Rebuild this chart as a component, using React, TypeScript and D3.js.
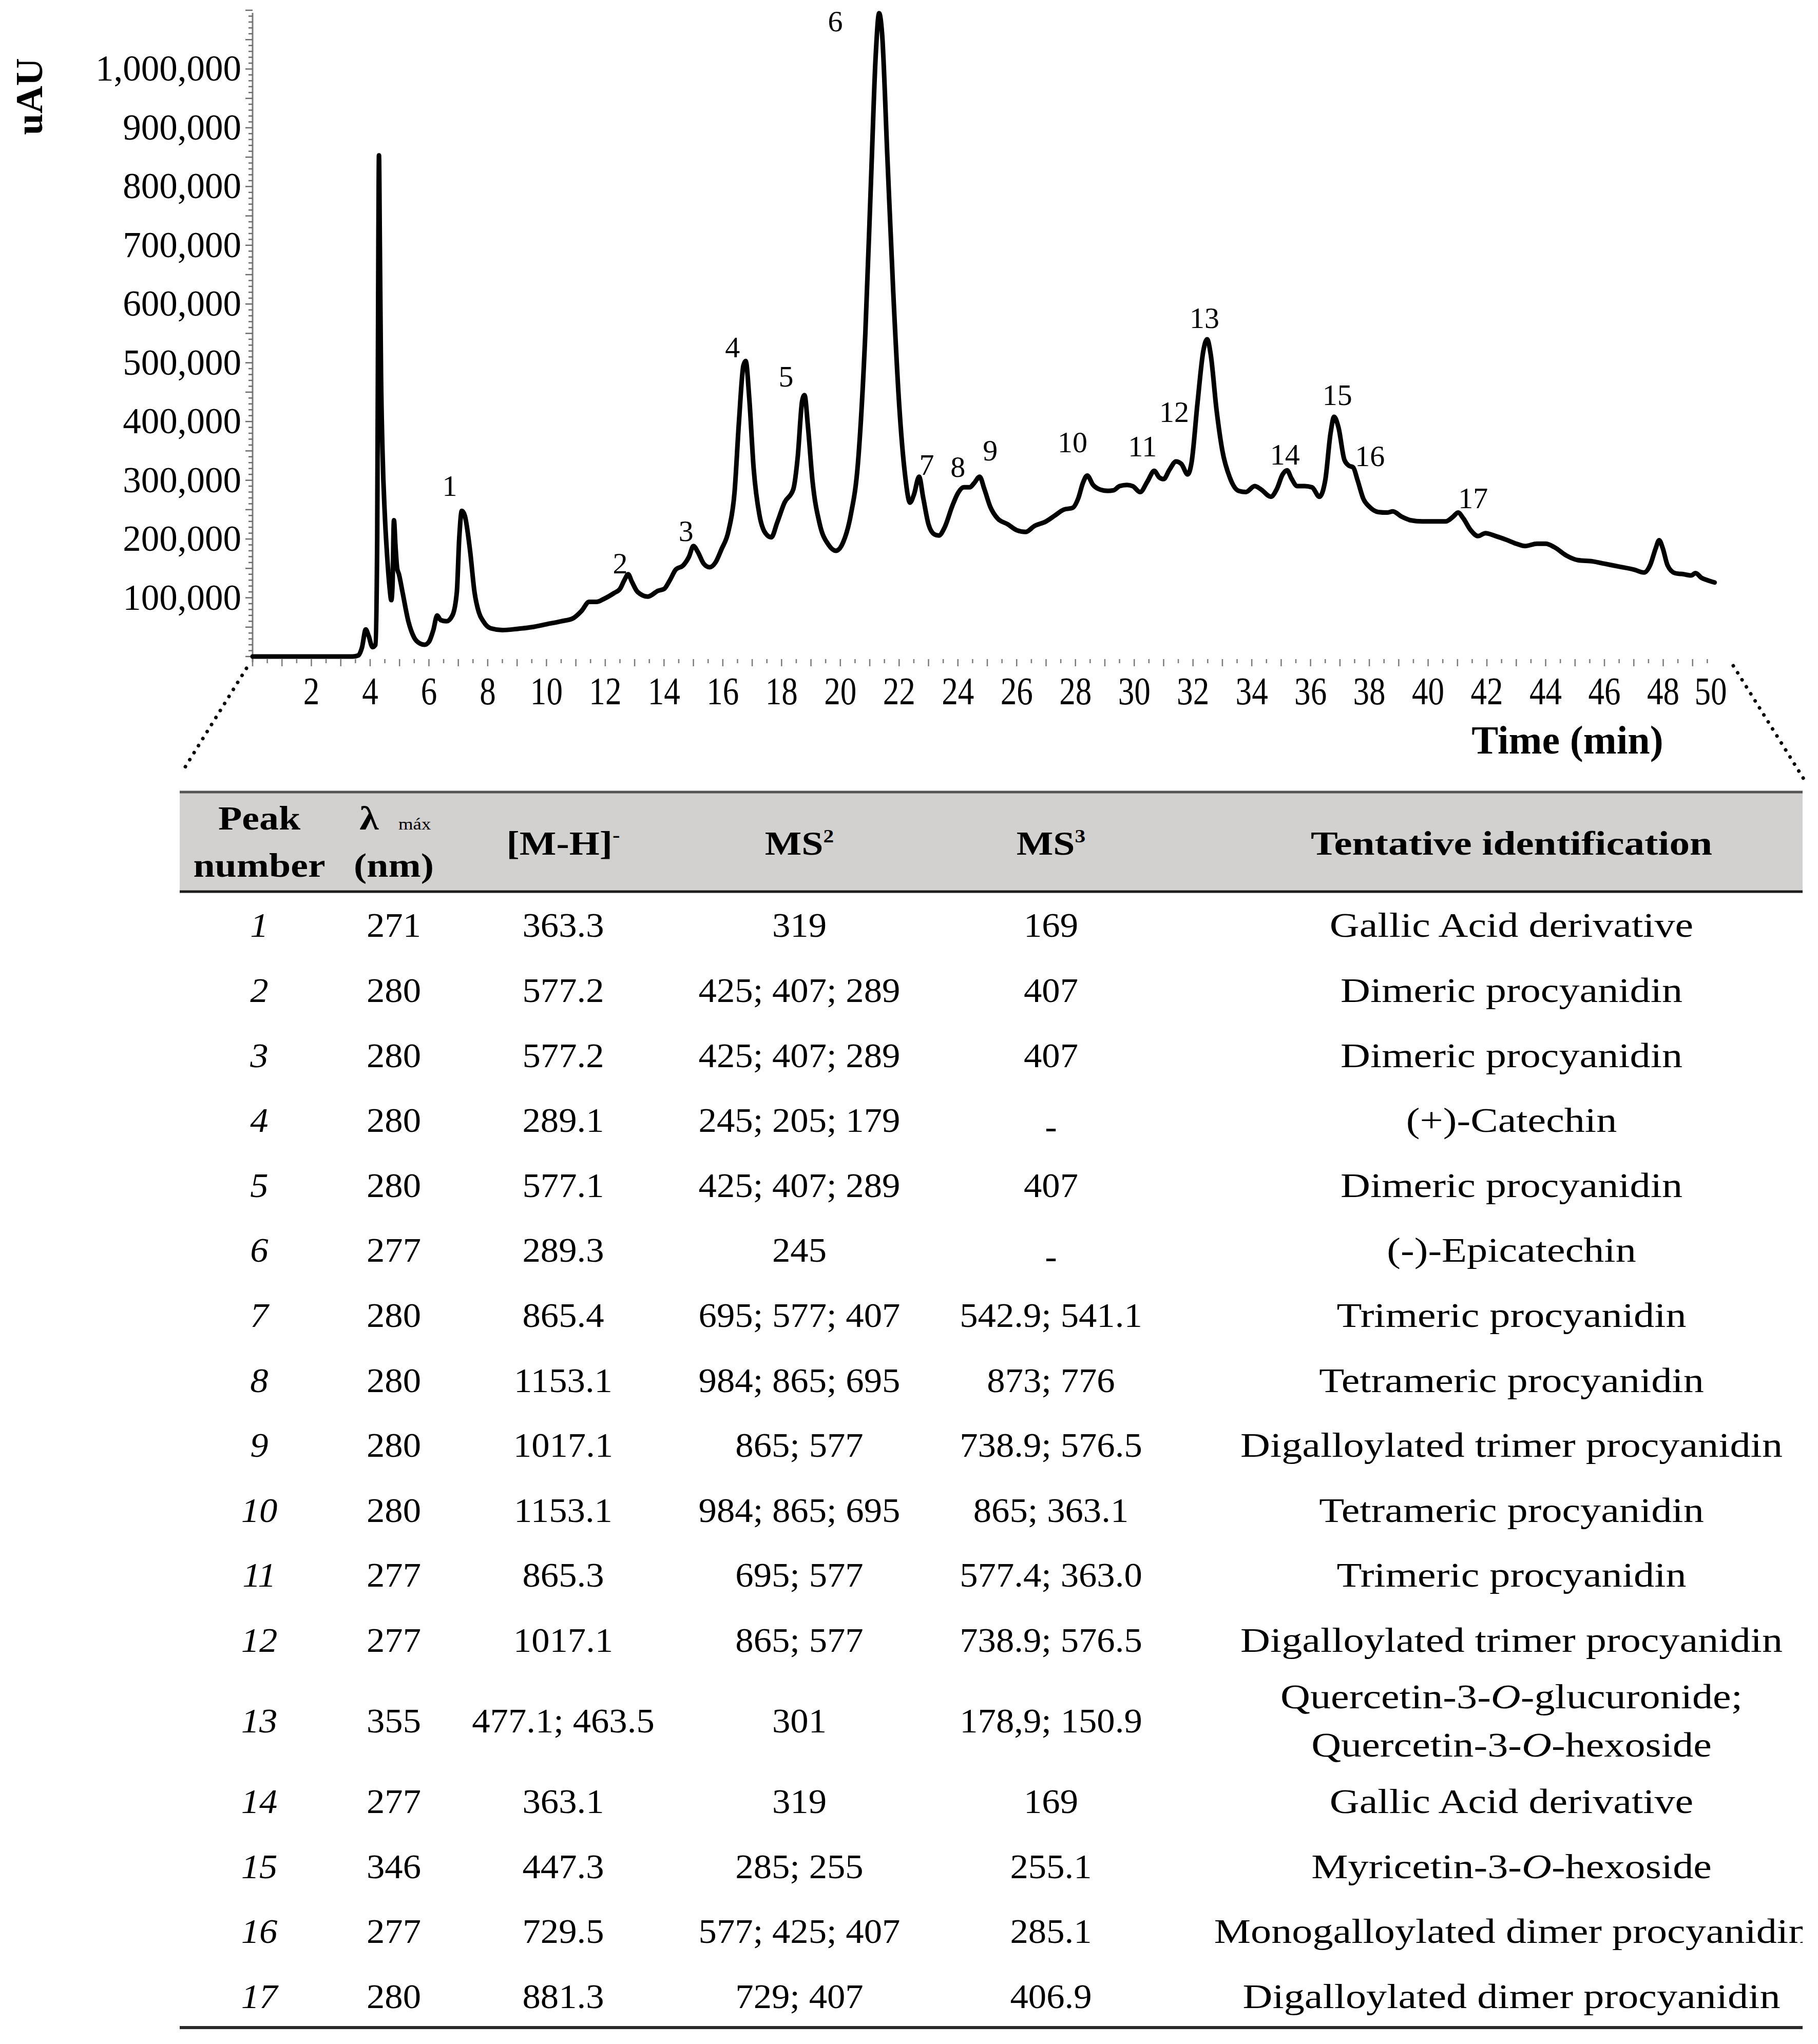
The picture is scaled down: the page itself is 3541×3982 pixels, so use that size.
import React from 'react';
import * as d3 from 'd3';

// ---------- Chromatogram data (time in min, signal in uAU) ----------
const timeMin = [
  0, 3.4, 3.6, 3.72, 3.85, 3.95, 4.08, 4.18, 4.24, 4.28, 4.3, 4.33, 4.37, 4.42, 4.5, 4.58, 4.66, 4.72,
  4.76, 4.81, 4.86, 4.92, 4.98, 5.1, 5.3, 5.5, 5.7, 5.85, 6.0, 6.15, 6.28, 6.4, 6.6, 6.8, 6.95, 7.03,
  7.12, 7.22, 7.4, 7.55, 7.7, 7.85, 8.1, 8.5, 9.0, 9.5, 10.0, 10.5, 10.9, 11.2, 11.45, 11.7, 11.95,
  12.3, 12.5, 12.65, 12.78, 12.9, 13.1, 13.45, 13.8, 14.0, 14.2, 14.4, 14.65, 14.85, 15.0, 15.15,
  15.35, 15.55, 15.75, 15.95, 16.2, 16.4, 16.55, 16.7, 16.78, 16.9, 17.05, 17.25, 17.45, 17.65, 17.85,
  18.1, 18.4, 18.55, 18.7, 18.78, 18.9, 19.05, 19.3, 19.6, 19.85, 20.1, 20.35, 20.6, 20.85, 21.05,
  21.2, 21.32, 21.42, 21.6, 21.8, 22.0, 22.2, 22.37, 22.5, 22.68, 22.82, 23.0, 23.2, 23.35, 23.55,
  23.8, 24.0, 24.2, 24.4, 24.55, 24.74, 24.9, 25.1, 25.35, 25.7, 26.0, 26.3, 26.6, 27.0, 27.3, 27.6,
  27.9, 28.1, 28.25, 28.4, 28.6, 28.85, 29.1, 29.3, 29.5, 29.75, 29.95, 30.2, 30.45, 30.68, 30.85,
  31.0, 31.2, 31.42, 31.6, 31.82, 31.95, 32.15, 32.35, 32.48, 32.6, 32.8, 33.0, 33.25, 33.55, 33.8,
  34.1, 34.3, 34.65, 34.85, 35.05, 35.2, 35.35, 35.55, 35.8, 36.05, 36.3, 36.5, 36.68, 36.8, 36.95,
  37.15, 37.3, 37.45, 37.6, 37.8, 38.0, 38.3, 38.6, 38.8, 39.1, 39.4, 39.8, 40.2, 40.6, 40.85, 41.02,
  41.2, 41.45, 41.7, 41.95, 42.3, 42.7, 43.0, 43.3, 43.7, 44.0, 44.3, 44.7, 45.1, 45.6, 46.0, 46.5,
  47.0, 47.35, 47.55, 47.75, 47.86, 47.98, 48.15, 48.4, 48.7, 48.95, 49.1, 49.3, 49.5, 49.75
];
const signal = [
  0, 0, 2000, 15000, 46000, 35000, 16000, 20000, 200000, 700000, 853000, 700000, 480000, 350000, 240000,
  170000, 118000, 96000, 120000, 232000, 190000, 150000, 140000, 110000, 60000, 32000, 22000, 20000,
  25000, 45000, 70000, 62000, 60000, 70000, 110000, 200000, 248000, 240000, 180000, 110000, 75000,
  60000, 48000, 45000, 47000, 50000, 55000, 60000, 65000, 78000, 93000, 93000, 98000, 108000, 115000,
  130000, 140000, 128000, 110000, 102000, 112000, 115000, 130000, 148000, 155000, 170000, 188000,
  178000, 158000, 152000, 160000, 182000, 215000, 280000, 400000, 495000, 503000, 440000, 320000,
  240000, 210000, 203000, 228000, 262000, 285000, 340000, 435000, 445000, 390000, 300000, 225000,
  190000, 180000, 195000, 240000, 330000, 550000, 820000, 1020000, 1095000, 1060000, 850000, 620000,
  430000, 310000, 262000, 275000, 306000, 270000, 225000, 208000, 206000, 220000, 255000, 278000,
  288000, 288000, 295000, 306000, 285000, 255000, 235000, 225000, 215000, 212000, 222000, 230000,
  240000, 250000, 253000, 270000, 295000, 308000, 292000, 284000, 282000, 283000, 290000, 292000,
  290000, 280000, 298000, 316000, 305000, 302000, 318000, 332000, 328000, 310000, 330000, 430000,
  520000, 540000, 515000, 420000, 350000, 305000, 282000, 280000, 290000, 285000, 272000, 285000,
  310000, 317000, 303000, 290000, 290000, 288000, 272000, 300000, 380000, 408000, 390000, 335000,
  325000, 322000, 300000, 268000, 255000, 246000, 245000, 247000, 238000, 232000, 230000, 230000,
  230000, 238000, 245000, 235000, 215000, 205000, 210000, 205000, 198000, 192000, 188000, 192000,
  192000, 186000, 172000, 164000, 162000, 158000, 153000, 148000, 143000, 155000, 185000, 198000,
  185000, 155000, 142000, 140000, 138000, 142000, 134000, 130000, 126000
];

const yTickValues = [100000, 200000, 300000, 400000, 500000, 600000, 700000, 800000, 900000, 1000000];
const xTickValues = [2, 4, 6, 8, 10, 12, 14, 16, 18, 20, 22, 24, 26, 28, 30, 32, 34, 36, 38, 40, 42, 44, 46, 48, 50];

// Peak number annotations (label centre in data units)
const peakIds = ['1', '2', '3', '4', '5', '6', '7', '8', '9', '10', '11', '12', '13', '14', '15', '16', '17'];
const peakLabelTime = [6.71, 12.51, 14.75, 16.33, 18.15, 19.83, 22.94, 24.0, 25.1, 27.9, 30.28, 31.36, 32.39, 35.13, 36.91, 38.02, 41.53];
const peakLabelSignal = [290000, 158000, 213000, 526000, 476000, 1081000, 326000, 322000, 350000, 364000, 357000, 416000, 576000, 343000, 445000, 341000, 269000];

// ---------- Table data ----------
const tablePeak = ['1', '2', '3', '4', '5', '6', '7', '8', '9', '10', '11', '12', '13', '14', '15', '16', '17'];
const tableLambda = ['271', '280', '280', '280', '280', '277', '280', '280', '280', '280', '277', '277', '355', '277', '346', '277', '280'];
const tableMH = ['363.3', '577.2', '577.2', '289.1', '577.1', '289.3', '865.4', '1153.1', '1017.1', '1153.1', '865.3', '1017.1', '477.1; 463.5', '363.1', '447.3', '729.5', '881.3'];
const tableMS2 = ['319', '425; 407; 289', '425; 407; 289', '245; 205; 179', '425; 407; 289', '245', '695; 577; 407', '984; 865; 695', '865; 577', '984; 865; 695', '695; 577', '865; 577', '301', '319', '285; 255', '577; 425; 407', '729; 407'];
const tableMS3 = ['169', '407', '407', '-', '407', '-', '542.9; 541.1', '873; 776', '738.9; 576.5', '865; 363.1', '577.4; 363.0', '738.9; 576.5', '178,9; 150.9', '169', '255.1', '285.1', '406.9'];
const tableIdent = [
  'Gallic Acid derivative',
  'Dimeric procyanidin',
  'Dimeric procyanidin',
  '(+)-Catechin',
  'Dimeric procyanidin',
  '(-)-Epicatechin',
  'Trimeric procyanidin',
  'Tetrameric procyanidin',
  'Digalloylated trimer procyanidin',
  'Tetrameric procyanidin',
  'Trimeric procyanidin',
  'Digalloylated trimer procyanidin',
  'Quercetin-3-*O*-glucuronide;\nQuercetin-3-*O*-hexoside',
  'Gallic Acid derivative',
  'Myricetin-3-*O*-hexoside',
  'Monogalloylated dimer procyanidin',
  'Digalloylated dimer procyanidin'
];

const FONT = "'Liberation Serif', 'Times New Roman', serif";

function renderRich(s: string) {
  const parts = s.split('*');
  return parts.map((p, i) => (
    <tspan key={i} fontStyle={i % 2 === 1 ? 'italic' : 'normal'}>{p}</tspan>
  ));
}

export default function App() {
  const W = 3541;
  const H = 3982;

  const x = d3.scaleLinear().domain([0, 50]).range([492, 3354]);
  const y = d3.scaleLinear().domain([0, 1100000]).range([1279, 20]);

  const pts: [number, number][] = timeMin.map((t, i) => [t, signal[i]]);
  const line = d3
    .line<[number, number]>()
    .x((d) => x(d[0]))
    .y((d) => y(d[1]))
    .curve(d3.curveMonotoneX);

  const yMinor = d3.range(0, 1100001, 10000);
  const xMinor = d3.range(0, 49.51, 0.5);

  // table layout
  const colX = [505, 767, 1097, 1557, 2047, 2944];
  const tableLeft = 350;
  const tableRight = 3511;
  const rowH = 126.6;
  const extraLineH = 60.8;
  const lineGap = 94;
  const bodyFont = 68;
  const headFont = 66;
  const letterStretch = 1.15;
  const identStretch = 1.18;
  const numStretch = 1.04;

  const rowCenters: number[] = [];
  let acc = 1740;
  tableIdent.forEach((s) => {
    const nLines = s.split('\n').length;
    const h = rowH + (nLines - 1) * extraLineH;
    rowCenters.push(acc + h / 2);
    acc += h;
  });

  const baseOff = 22;

  const stretchText = (
    cx: number,
    by: number,
    content: React.ReactNode,
    opts: { size: number; weight?: string; italic?: boolean; key?: string; sx?: number }
  ) => (
    <text
      key={opts.key}
      transform={`translate(${cx},${by}) scale(${opts.sx ?? letterStretch},1)`}
      textAnchor="middle"
      fontFamily={FONT}
      fontSize={opts.size}
      fontWeight={opts.weight || 'normal'}
      fontStyle={opts.italic ? 'italic' : 'normal'}
      fill="#000"
    >
      {content}
    </text>
  );

  return (
    <svg
      width={W}
      height={H}
      viewBox={`0 0 ${W} ${H}`}
      style={{ position: 'absolute', left: 0, top: 0, background: '#fff' }}
    >
      <rect x={0} y={0} width={W} height={H} fill="#fff" />

      {/* ---------- Y axis ---------- */}
      <line x1={492} y1={25} x2={492} y2={1290} stroke="#7a7a7a" strokeWidth={3} />
      {yMinor.map((v) => (
        <line
          key={'ym' + v}
          x1={v % 50000 === 0 ? 478 : 484}
          x2={492}
          y1={y(v)}
          y2={y(v)}
          stroke="#6a6a6a"
          strokeWidth={2.5}
        />
      ))}
      {yTickValues.map((v) => (
        <text
          key={'yl' + v}
          x={470}
          y={y(v) + 23}
          textAnchor="end"
          fontFamily={FONT}
          fontSize={71}
          fill="#000"
        >
          {d3.format(',')(v)}
        </text>
      ))}
      <text
        transform={`translate(82,188) rotate(-90)`}
        textAnchor="middle"
        fontFamily={FONT}
        fontSize={75}
        fontWeight="bold"
        fill="#000"
      >
        uAU
      </text>

      {/* ---------- X axis ---------- */}
      {xMinor.map((t) => (
        <line
          key={'xm' + t}
          x1={x(t)}
          x2={x(t)}
          y1={1284}
          y2={Number.isInteger(t) ? 1298 : 1292}
          stroke="#7a7a7a"
          strokeWidth={2.5}
        />
      ))}
      {xTickValues.map((t) => {
        const px = t === 50 ? x(t) - 22 : x(t);
        return (
          <text
            key={'xl' + t}
            transform={`translate(${px},1372) scale(0.82,1)`}
            textAnchor="middle"
            fontFamily={FONT}
            fontSize={77}
            fill="#000"
          >
            {t}
          </text>
        );
      })}
      <text
        x={3053}
        y={1468}
        textAnchor="middle"
        fontFamily={FONT}
        fontSize={78}
        fontWeight="bold"
        fill="#000"
      >
        Time (min)
      </text>

      {/* ---------- Chromatogram ---------- */}
      <path
        d={line(pts) || ''}
        fill="none"
        stroke="#000"
        strokeWidth={9}
        strokeLinejoin="round"
        strokeLinecap="round"
      />

      {peakIds.map((p, i) => (
        <text
          key={'pk' + p}
          x={x(peakLabelTime[i])}
          y={y(peakLabelSignal[i]) + 19}
          textAnchor="middle"
          fontFamily={FONT}
          fontSize={58}
          fill="#000"
        >
          {p}
        </text>
      ))}

      {/* ---------- Dotted zoom lines ---------- */}
      <line
        x1={480}
        y1={1302}
        x2={354}
        y2={1505}
        stroke="#000"
        strokeWidth={7}
        strokeDasharray="0.1 16"
        strokeLinecap="round"
      />
      <line
        x1={3376}
        y1={1297}
        x2={3516}
        y2={1522}
        stroke="#000"
        strokeWidth={7}
        strokeDasharray="0.1 16"
        strokeLinecap="round"
      />

      {/* ---------- Table ---------- */}
      <defs>
        <clipPath id="tableClip">
          <rect x={tableLeft} y={1500} width={tableRight - tableLeft} height={2482} />
        </clipPath>
      </defs>
      <g clipPath="url(#tableClip)">
        <rect x={tableLeft} y={1545} width={tableRight - tableLeft} height={190} fill="#d3d0d0" />
        <line x1={tableLeft} x2={tableRight} y1={1543} y2={1543} stroke="#555" strokeWidth={5} />
        <line x1={tableLeft} x2={tableRight} y1={1737} y2={1737} stroke="#1c1c1c" strokeWidth={5} />
        <line x1={tableLeft} x2={tableRight} y1={3950} y2={3950} stroke="#2a2a2a" strokeWidth={6} />

        {/* header */}
        {stretchText(colX[0], 1616, 'Peak', { size: headFont, weight: 'bold', key: 'h1' })}
        {stretchText(colX[0], 1708, 'number', { size: headFont, weight: 'bold', key: 'h2' })}
        <text
          transform={`translate(${719},1616) scale(${letterStretch},1)`}
          textAnchor="middle"
          fontFamily={FONT}
          fontSize={headFont}
          fontWeight="bold"
        >
          λ
        </text>
        <text
          transform={`translate(${776},1616) scale(${letterStretch},1)`}
          textAnchor="start"
          fontFamily={FONT}
          fontSize={32}
        >
          máx
        </text>
        {stretchText(colX[1], 1708, '(nm)', { size: headFont, weight: 'bold', key: 'h3' })}
        {stretchText(
          colX[2],
          1665,
          <>
            [M-H]
            <tspan fontSize={38} dy={-26}>-</tspan>
          </>,
          { size: headFont, weight: 'bold', key: 'h4' }
        )}
        {stretchText(
          colX[3],
          1665,
          <>
            MS
            <tspan fontSize={36} dy={-24}>2</tspan>
          </>,
          { size: headFont, weight: 'bold', key: 'h5' }
        )}
        {stretchText(
          colX[4],
          1665,
          <>
            MS
            <tspan fontSize={36} dy={-24}>3</tspan>
          </>,
          { size: headFont, weight: 'bold', key: 'h6' }
        )}
        {stretchText(colX[5], 1665, 'Tentative identification', { size: headFont, weight: 'bold', key: 'h7', sx: 1.2 })}

        {/* body */}
        {tablePeak.map((p, i) => {
          const cy = rowCenters[i];
          const by = cy + baseOff;
          const identLines = tableIdent[i].split('\n');
          const isDash = (s: string) => s === '-';
          return (
            <g key={'row' + i}>
              {stretchText(colX[0], by, p, { size: bodyFont, italic: true, sx: numStretch, key: 'p' + i })}
              {stretchText(colX[1], by, tableLambda[i], { size: bodyFont, sx: numStretch, key: 'l' + i })}
              {stretchText(colX[2], by, tableMH[i], { size: bodyFont, sx: numStretch, key: 'm' + i })}
              {stretchText(colX[3], by, tableMS2[i], { size: bodyFont, sx: numStretch, key: 'a' + i })}
              {stretchText(colX[4], isDash(tableMS3[i]) ? by + 12 : by, tableMS3[i], {
                size: bodyFont,
                sx: numStretch,
                key: 'b' + i
              })}
              {identLines.map((ln, k) => {
                const offs = (k - (identLines.length - 1) / 2) * lineGap;
                return stretchText(colX[5], by + offs, renderRich(ln), {
                  size: bodyFont,
                  sx: identStretch,
                  key: 'id' + i + '-' + k
                });
              })}
            </g>
          );
        })}
      </g>
    </svg>
  );
}
